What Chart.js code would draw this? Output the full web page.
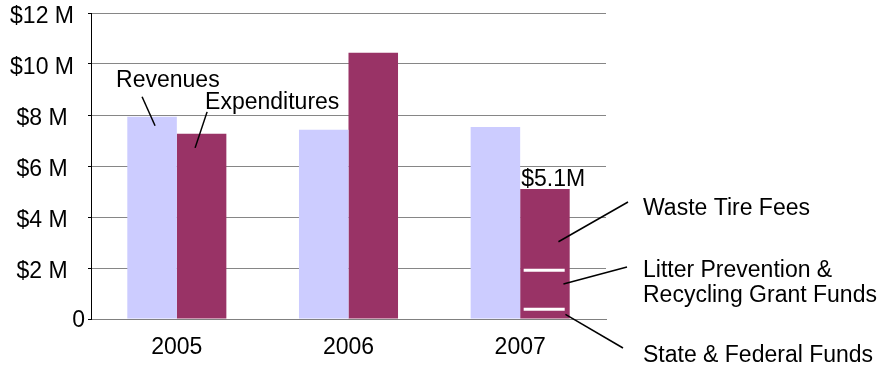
<!DOCTYPE html>
<html>
<head>
<meta charset="utf-8">
<script src="https://cdn.jsdelivr.net/npm/chart.js@4"></script>
<style>
  html, body { margin: 0; padding: 0; background: #fff; }
</style>
</head>
<body>
<canvas id="fundChart" width="895" height="369"></canvas>
<script>
const years = ['2005', '2006', '2007'];
const revenues = [7.93, 7.42, 7.53];      // $ millions
const expenditures = [7.26, 10.44, 5.1];  // $ millions
const yTicks = [0, 2, 4, 6, 8, 10, 12];

// 2007 expenditures split by funding source, bottom to top
const fundSources = ['State & Federal Funds', 'Litter Prevention &|Recycling Grant Funds', 'Waste Tire Fees'];
const fundAmounts = [0.38, 1.53, 3.19];

const FONT = "'Liberation Sans', Arial, sans-serif";
const FONT_SIZE = 23;

// where each source label sits in the right margin, and where its pointer starts
const sourceLabels = [
  { x: 643, y: 362, lineTo: [623, 348], anchorDx: 20.5, anchorVal: 0.18 },
  { x: 643, y: 277, lineTo: [627, 267], anchorDx: 18.5, anchorVal: 1.37 },
  { x: 643, y: 215, lineTo: [628, 202], anchorDx: 13.5, anchorVal: 3.03 }
];

function line(ctx, x1, y1, x2, y2) {
  ctx.beginPath();
  ctx.moveTo(x1, y1);
  ctx.lineTo(x2, y2);
  ctx.stroke();
}

const callouts = {
  id: 'callouts',
  afterDatasetsDraw(chart) {
    const ctx = chart.ctx;
    const yScale = chart.scales.y;
    const rev05 = chart.getDatasetMeta(0).data[0];
    const exp05 = chart.getDatasetMeta(1).data[0];
    const exp07 = chart.getDatasetMeta(1).data[2];
    const left07 = exp07.x - exp07.width / 2;
    const right07 = exp07.x + exp07.width / 2;

    ctx.save();
    ctx.font = FONT_SIZE + 'px ' + FONT;
    ctx.fillStyle = '#000';

    // zero label sits apart from the $ labels
    ctx.textAlign = 'right';
    ctx.textBaseline = 'middle';
    ctx.fillText('0', 85, yScale.getPixelForValue(0) + 2);
    ctx.textAlign = 'left';
    ctx.textBaseline = 'alphabetic';

    // series names with pointers
    ctx.strokeStyle = '#000';
    ctx.lineWidth = 1.5;
    ctx.fillText('Revenues', rev05.x - 36, rev05.y - 30);
    line(ctx, rev05.x - 10, rev05.y - 20, rev05.x + 3, rev05.y + 9);
    ctx.fillText('Expenditures', exp05.x + 3.5, exp05.y - 25);
    line(ctx, exp05.x + 5.5, exp05.y - 22, exp05.x - 6.5, exp05.y + 14);

    // total over the 2007 bar
    ctx.fillText('$' + expenditures[2] + 'M', left07 + 1, exp07.y - 3);

    // white dividers between funding sources
    ctx.strokeStyle = '#fff';
    ctx.lineWidth = 3;
    let sum = 0;
    for (let i = 0; i < fundAmounts.length - 1; i++) {
      sum += fundAmounts[i];
      const py = yScale.getPixelForValue(sum);
      line(ctx, left07 + 3.5, py, right07 - 5, py);
    }

    // source labels in the margin
    ctx.strokeStyle = '#000';
    ctx.lineWidth = 1.5;
    sourceLabels.forEach((s, i) => {
      const ay = yScale.getPixelForValue(s.anchorVal);
      line(ctx, exp07.x + s.anchorDx, ay, s.lineTo[0], s.lineTo[1]);
      fundSources[i].split('|').forEach((p, k) => {
        ctx.fillText(p, s.x, s.y + k * 25);
      });
    });
    ctx.restore();
  }
};

Chart.defaults.font.family = FONT;
Chart.defaults.font.size = FONT_SIZE;
Chart.defaults.color = '#000';

new Chart(document.getElementById('fundChart'), {
  type: 'bar',
  data: {
    labels: years,
    datasets: [
      {
        label: 'Revenues',
        data: revenues,
        backgroundColor: '#CCCCFF',
        barPercentage: 1,
        categoryPercentage: 0.577
      },
      {
        label: 'Expenditures',
        data: expenditures,
        backgroundColor: '#993366',
        barPercentage: 1,
        categoryPercentage: 0.577
      }
    ]
  },
  options: {
    responsive: false,
    animation: false,
    layout: { padding: { top: 13, right: 289, left: 0, bottom: 0 } },
    plugins: {
      legend: { display: false },
      tooltip: { enabled: false }
    },
    scales: {
      x: {
        grid: { display: false },
        border: { color: '#808080', width: 1 },
        ticks: { padding: 7 },
        afterFit(scale) {
          scale.height = 50;
          scale.paddingLeft = 0;
          scale.paddingRight = 0;
        }
      },
      y: {
        min: 0,
        max: 12,
        afterBuildTicks(scale) {
          scale.ticks = yTicks.map(v => ({ value: v }));
        },
        ticks: {
          padding: 14,
          crossAlign: 'center',
          labelOffset: 4,
          callback: v => (v === 0 ? '' : '$' + v + ' M')
        },
        grid: { color: '#868686', lineWidth: 1, tickLength: 3, tickColor: '#000' },
        border: { color: '#000', width: 1 },
        afterFit(scale) {
          scale.width = 91;
          scale.paddingTop = 0;
          scale.paddingBottom = 0;
        }
      }
    }
  },
  plugins: [callouts]
});
</script>
</body>
</html>
